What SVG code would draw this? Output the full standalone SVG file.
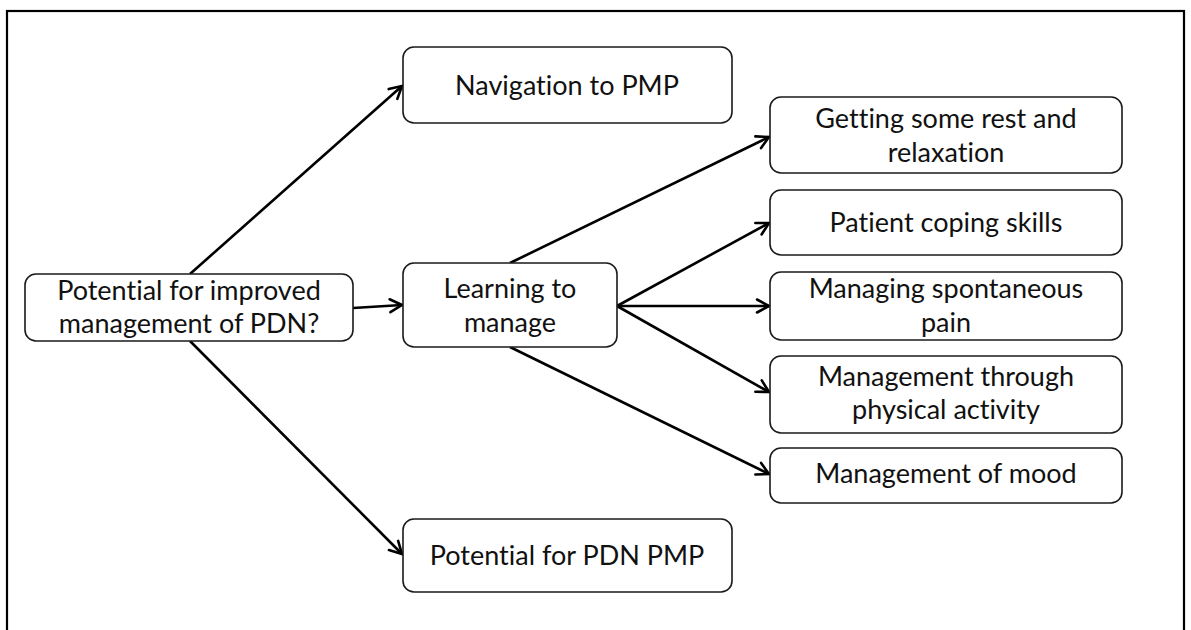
<svg xmlns="http://www.w3.org/2000/svg" width="1191" height="630" viewBox="0 0 1191 630">
  <style>
    .frame { fill: none; stroke: #000; stroke-width: 2.2; }
    .box { fill: #fff; stroke: #1a1a1a; stroke-width: 1.6; }
    .lbl { font-family: Lato, "Liberation Sans", sans-serif; font-size: 27px; fill: #111; text-anchor: middle; font-variant-ligatures: none; font-feature-settings: "liga" 0, "dlig" 0; }
    .edge { fill: none; stroke: #000; stroke-width: 2.6; marker-end: url(#arrow); }
  </style>
  <defs>
    <marker id="arrow" markerUnits="userSpaceOnUse" markerWidth="18" markerHeight="18" viewBox="0 0 18 18" refX="15" refY="9" orient="auto">
      <path d="M3,2.5 L15,9 L3,15.5" fill="none" stroke="#000" stroke-width="2.6" stroke-linecap="round" stroke-linejoin="miter"/>
    </marker>
  </defs>

  <rect width="1191" height="630" fill="#fff"/>
  <rect class="frame" x="7" y="11" width="1177" height="640"/>

  <!-- connectors -->
  <g id="connectors">
    <line class="edge" x1="190" y1="274" x2="402" y2="86"/>
    <line class="edge" x1="353" y1="308" x2="402" y2="305"/>
    <line class="edge" x1="190" y1="341" x2="402" y2="554"/>
    <line class="edge" x1="510" y1="263" x2="769" y2="137"/>
    <line class="edge" x1="617" y1="306" x2="769" y2="223"/>
    <line class="edge" x1="617" y1="306" x2="769" y2="306"/>
    <line class="edge" x1="617" y1="306" x2="769" y2="392"/>
    <line class="edge" x1="510" y1="347" x2="769" y2="474"/>
  </g>

  <!-- nodes -->
  <g id="root">
    <rect class="box" x="25" y="274" width="328" height="67" rx="11"/>
    <text class="lbl" x="189" y="300">Potential for improved</text>
    <text class="lbl" x="189" y="333">management of PDN?</text>
  </g>
  <g id="navigation">
    <rect class="box" x="403" y="47" width="329" height="76" rx="11"/>
    <text class="lbl" x="567" y="95">Navigation to PMP</text>
  </g>
  <g id="learning">
    <rect class="box" x="403" y="263" width="214" height="84" rx="11"/>
    <text class="lbl" x="510" y="298">Learning to</text>
    <text class="lbl" x="510" y="332">manage</text>
  </g>
  <g id="potential-pmp">
    <rect class="box" x="403" y="519" width="329" height="73" rx="11"/>
    <text class="lbl" x="567" y="565">Potential for PDN PMP</text>
  </g>
  <g id="rest">
    <rect class="box" x="770" y="97" width="352" height="76" rx="11"/>
    <text class="lbl" x="946" y="128">Getting some rest and</text>
    <text class="lbl" x="946" y="162">relaxation</text>
  </g>
  <g id="coping">
    <rect class="box" x="770" y="190" width="352" height="65" rx="11"/>
    <text class="lbl" x="946" y="232">Patient coping skills</text>
  </g>
  <g id="spontaneous">
    <rect class="box" x="770" y="272" width="352" height="68" rx="11"/>
    <text class="lbl" x="946" y="298">Managing spontaneous</text>
    <text class="lbl" x="946" y="332">pain</text>
  </g>
  <g id="physical">
    <rect class="box" x="770" y="356" width="352" height="77" rx="11"/>
    <text class="lbl" x="946" y="386">Management through</text>
    <text class="lbl" x="946" y="419">physical activity</text>
  </g>
  <g id="mood">
    <rect class="box" x="770" y="448" width="352" height="55" rx="11"/>
    <text class="lbl" x="946" y="483">Management of mood</text>
  </g>
</svg>
